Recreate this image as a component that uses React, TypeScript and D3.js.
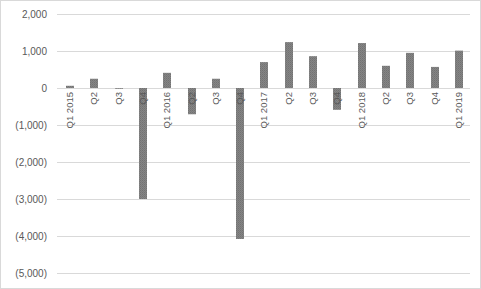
import React, { useEffect, useRef } from "react";
import * as d3 from "d3";

const categories = [
  "Q1 2015", "Q2", "Q3", "Q4",
  "Q1 2016", "Q2", "Q3", "Q4",
  "Q1 2017", "Q2", "Q3", "Q4",
  "Q1 2018", "Q2", "Q3", "Q4",
  "Q1 2019",
];
const values = [
  60, 250, -20, -3000,
  410, -710, 250, -4080,
  700, 1240, 860, -590,
  1215, 600, 950, 570,
  1010,
];
const yTicks = [2000, 1000, 0, -1000, -2000, -3000, -4000, -5000];

const W = 481;
const H = 289;

export default function App() {
  const ref = useRef<SVGSVGElement>(null);
  useEffect(() => {
    const svg = d3.select(ref.current);
    svg.selectAll("*").remove();

    const defs = svg.append("defs");
    const pat = defs
      .append("pattern")
      .attr("id", "dots")
      .attr("width", 2)
      .attr("height", 2)
      .attr("patternUnits", "userSpaceOnUse");
    pat.append("rect").attr("width", 2).attr("height", 2).attr("fill", "#858585");
    pat.append("rect").attr("width", 1).attr("height", 1).attr("fill", "#727272");
    pat.append("rect").attr("x", 1).attr("y", 1).attr("width", 1).attr("height", 1).attr("fill", "#7a7a7a");

    svg
      .append("rect")
      .attr("x", 0.5)
      .attr("y", 0.5)
      .attr("width", W - 1)
      .attr("height", H - 1)
      .attr("fill", "#fff")
      .attr("stroke", "#d9d9d9");

    const y = d3.scaleLinear().domain([-5000, 2000]).range([273, 14]);
    const x = d3
      .scaleBand<number>()
      .domain(d3.range(categories.length))
      .range([58, 471])
      .paddingInner(0.67)
      .paddingOuter(0.335);

    const grid = svg.append("g");
    yTicks.forEach((t) => {
      grid
        .append("line")
        .attr("x1", 57)
        .attr("x2", 470)
        .attr("y1", Math.round(y(t)) + 0.5)
        .attr("y2", Math.round(y(t)) + 0.5)
        .attr("stroke", "#d9d9d9")
        .attr("stroke-width", 1);
      grid
        .append("text")
        .attr("x", 47)
        .attr("y", y(t))
        .attr("dy", "0.35em")
        .attr("text-anchor", "end")
        .attr("font-family", "Liberation Sans, Arial, sans-serif")
        .attr("font-size", 10)
        .attr("fill", "#595959")
        .text(t === 0 ? "0" : t < 0 ? `(${d3.format(",")(-t)})` : d3.format(",")(t));
    });

    svg
      .append("g")
      .selectAll("rect")
      .data(values)
      .join("rect")
      .attr("x", (_, i) => Math.round(x(i)!))
      .attr("width", Math.round(x.bandwidth()))
      .attr("y", (d) => y(Math.max(0, d)))
      .attr("height", (d) => Math.abs(y(d) - y(0)))
      .attr("fill", "url(#dots)");

    svg
      .append("g")
      .selectAll("text")
      .data(categories)
      .join("text")
      .attr("transform", (_, i) => {
        const cx = Math.round(x(i)!) + Math.round(x.bandwidth()) / 2;
        return `translate(${cx},92) rotate(-90)`;
      })
      .attr("dy", "0.36em")
      .attr("text-anchor", "end")
      .attr("font-family", "Liberation Sans, Arial, sans-serif")
      .attr("font-size", 9.5)
      .attr("fill", "#595959")
      .text((d) => d);
  }, []);

  return (
    <svg
      ref={ref}
      width={W}
      height={H}
      style={{ position: "fixed", left: 0, top: 0, display: "block" }}
    />
  );
}
